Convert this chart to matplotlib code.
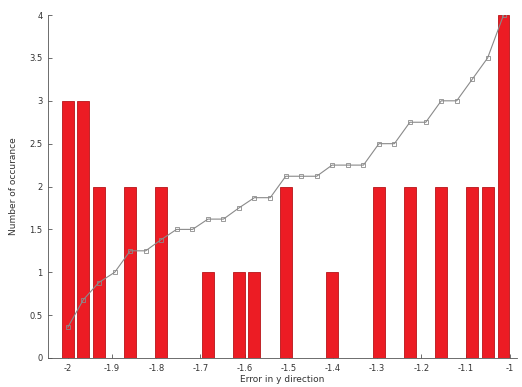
import numpy as np
import matplotlib
matplotlib.use('Agg')
import matplotlib.pyplot as plt

# histogram of errors (bin centres and counts)
bar_x = [-2.000, -1.965, -1.930, -1.859, -1.789, -1.683, -1.613, -1.578,
         -1.507, -1.402, -1.296, -1.226, -1.155, -1.085, -1.050, -1.014]
counts = [3, 3, 2, 2, 2, 1, 1, 1, 2, 1, 2, 2, 2, 2, 2, 4]

# grey trend line over every bin
line_x = [-2.000, -1.965, -1.930, -1.894, -1.859, -1.824, -1.789, -1.754,
          -1.718, -1.683, -1.648, -1.613, -1.578, -1.542, -1.507, -1.472,
          -1.437, -1.402, -1.366, -1.331, -1.296, -1.261, -1.226, -1.190,
          -1.155, -1.120, -1.085, -1.050, -1.014]
line_y = [0.36, 0.68, 0.88, 1.0, 1.25, 1.25, 1.38, 1.5,
          1.5, 1.62, 1.62, 1.75, 1.87, 1.87, 2.12, 2.12,
          2.12, 2.25, 2.25, 2.25, 2.5, 2.5, 2.75, 2.75,
          3.0, 3.0, 3.25, 3.5, 4.0]

xticks = [-2, -1.9, -1.8, -1.7, -1.6, -1.5, -1.4, -1.3, -1.2, -1.1, -1]
xticklabels = ['-2', '-1.9', '-1.8', '-1.7', '-1.6', '-1.5', '-1.4', '-1.3', '-1.2', '-1.1', '-1']
yticks = [0, 0.5, 1, 1.5, 2, 2.5, 3, 3.5, 4]
yticklabels = ['0', '0.5', '1', '1.5', '2', '2.5', '3', '3.5', '4']

fig = plt.figure(figsize=(5.22, 3.87), dpi=100)
ax = fig.add_axes([0.092, 0.075, 0.898, 0.886])

ax.bar(bar_x, counts, width=0.027, color='#ec1c24', edgecolor='#b81418', linewidth=0.6, zorder=2)
ax.plot(line_x, line_y, color='#8a8a8a', lw=0.8, marker='s', markersize=3.2,
        mfc='none', mec='#8a8a8a', mew=0.6, zorder=3)

ax.set_xlim(-2.045, -0.984)
ax.set_ylim(0, 4)
ax.set_xticks(xticks)
ax.set_xticklabels(xticklabels)
ax.set_yticks(yticks)
ax.set_yticklabels(yticklabels)
ax.tick_params(direction='in', length=3, width=0.5, labelsize=6, colors='#333333', pad=4)

for s in ['top', 'right']:
    ax.spines[s].set_visible(False)
for s in ['left', 'bottom']:
    ax.spines[s].set_linewidth(0.6)
    ax.spines[s].set_color('#555555')

ax.set_xlabel('Error in y direction', fontsize=6.5, color='#333333', labelpad=2)
ax.set_ylabel('Number of occurance', fontsize=6.5, color='#333333', labelpad=8)

plt.savefig('out.png', dpi=100)
